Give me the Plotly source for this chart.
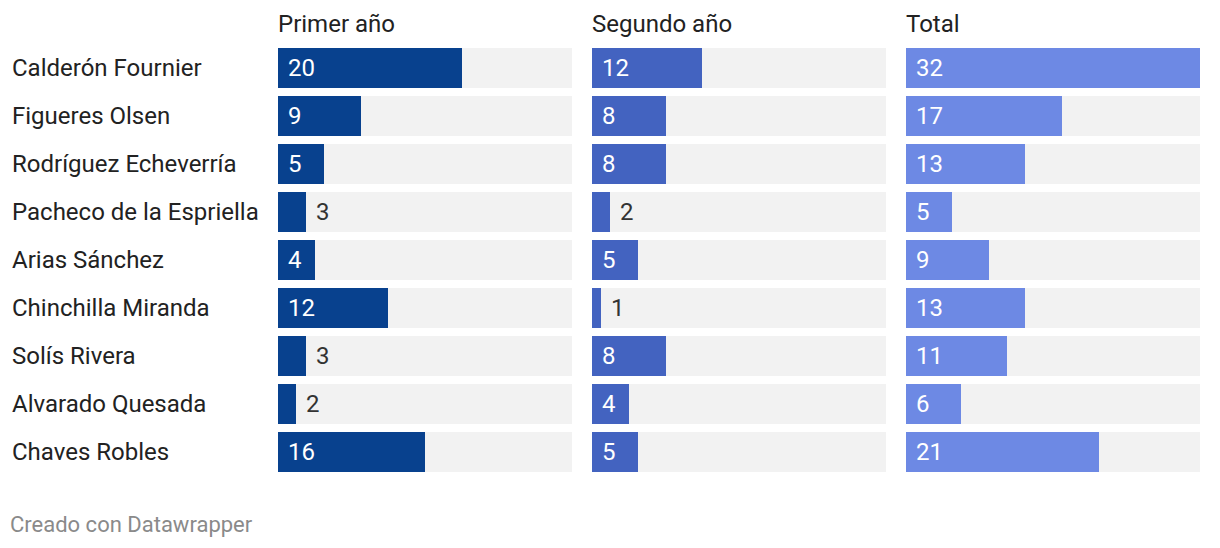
import plotly.graph_objects as go

names = ["Calderón Fournier", "Figueres Olsen", "Rodríguez Echeverría",
         "Pacheco de la Espriella", "Arias Sánchez", "Chinchilla Miranda",
         "Solís Rivera", "Alvarado Quesada", "Chaves Robles"]
primer = [20, 9, 5, 3, 4, 12, 3, 2, 16]
segundo = [12, 8, 8, 2, 5, 1, 8, 4, 5]
total = [32, 17, 13, 5, 9, 13, 11, 6, 21]
titles = ["Primer año", "Segundo año", "Total"]
colors = ["#08418e", "#4363c0", "#6d89e4"]
series = [primer, segundo, total]

W, H = 1220, 548
xmax = 32
domains = [(278 / W, 572 / W), (592 / W, 886 / W), (906 / W, 1200 / W)]
rows = list(range(len(names)))
ymin = -68 / 48
FS = 24

fig = go.Figure()
annotations = []
for k, (vals, col, dom, title) in enumerate(zip(series, colors, domains, titles)):
    xa = "x" if k == 0 else f"x{k+1}"
    fig.add_trace(go.Bar(x=[xmax] * len(rows), y=rows, orientation="h",
                         marker=dict(color="#f2f2f2", line=dict(width=0)),
                         width=40 / 48, xaxis=xa, yaxis="y", hoverinfo="skip",
                         showlegend=False))
    fig.add_trace(go.Bar(x=vals, y=rows, orientation="h",
                         marker=dict(color=col, line=dict(width=0)),
                         width=40 / 48, xaxis=xa, yaxis="y",
                         showlegend=False))
    for r, v in zip(rows, vals):
        inside = v >= 4
        annotations.append(dict(
            x=0 if inside else v, y=r, xref=xa, yref="y",
            text=str(v), showarrow=False, xanchor="left", yanchor="middle",
            xshift=8,
            font=dict(family="Roboto", size=FS,
                      color="#ffffff" if inside else "#333333")))
    annotations.append(dict(x=dom[0], y=ymin + 24 / 48, xref="paper", yref="y",
                            text=title, showarrow=False, xanchor="left",
                            yanchor="middle", xshift=-2,
                            font=dict(family="Roboto", size=FS, color="#222222")))

for r, n in zip(rows, names):
    annotations.append(dict(x=12 / W, y=r, xref="paper", yref="y", text=n,
                            showarrow=False, xanchor="left", yanchor="middle",
                            xshift=-2,
                            font=dict(family="Roboto", size=FS, color="#222222")))

annotations.append(dict(x=10 / W, y=ymin + 524 / 48, xref="paper", yref="y",
                        text="Creado con Datawrapper", showarrow=False,
                        xanchor="left", yanchor="middle", xshift=-2,
                        font=dict(family="Roboto", size=22, color="#8a8a8a")))

axis_common = dict(range=[0, xmax], showgrid=False, zeroline=False,
                   showticklabels=False, showline=False, fixedrange=True)
fig.update_layout(
    width=W, height=H, margin=dict(l=0, r=0, t=0, b=0),
    paper_bgcolor="white", plot_bgcolor="white",
    barmode="overlay", bargap=0,
    xaxis=dict(domain=list(domains[0]), **axis_common),
    xaxis2=dict(domain=list(domains[1]), anchor="y", **axis_common),
    xaxis3=dict(domain=list(domains[2]), anchor="y", **axis_common),
    yaxis=dict(range=[ymin + H / 48, ymin], domain=[0, 1], showgrid=False,
               zeroline=False, showticklabels=False, fixedrange=True),
    annotations=annotations,
    font=dict(family="Roboto"),
)
fig.write_html("out.html")
